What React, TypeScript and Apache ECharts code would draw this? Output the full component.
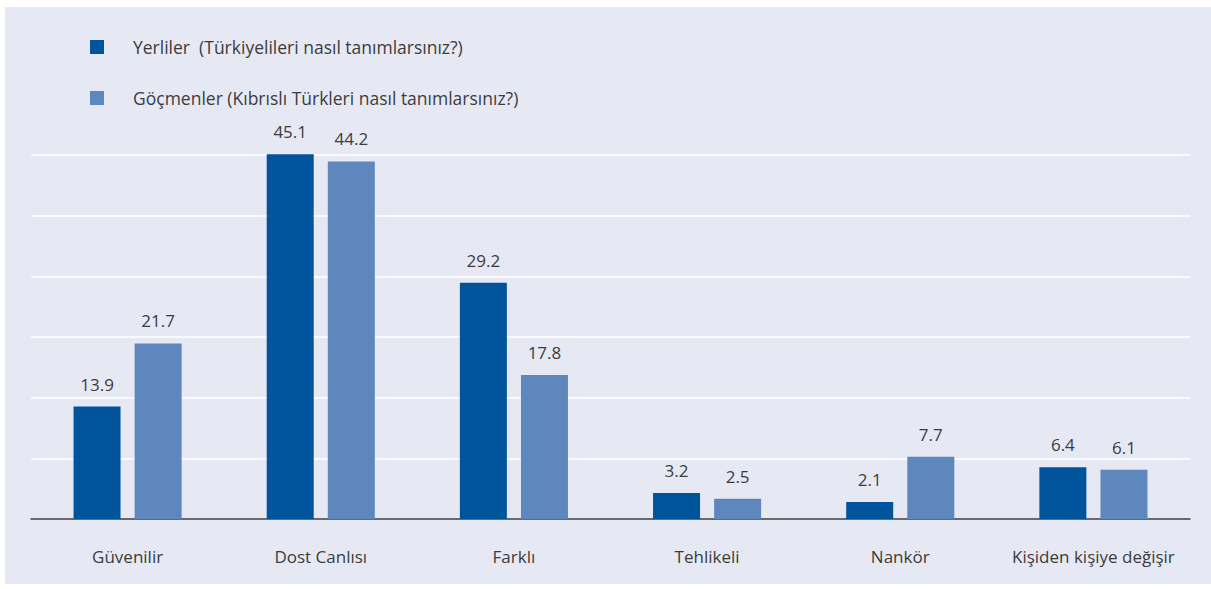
import React, { useEffect, useRef } from "react";
import * as echarts from "echarts";

const categories = ["Güvenilir", "Dost Canlısı", "Farklı", "Tehlikeli", "Nankör", "Kişiden kişiye değişir"];
const seriesNames = ["Yerliler  (Türkiyelileri nasıl tanımlarsınız?)", "Göçmenler (Kıbrıslı Türkleri nasıl tanımlarsınız?)"];
const yerliler = [13.9, 45.1, 29.2, 3.2, 2.1, 6.4];
const gocmenler = [21.7, 44.2, 17.8, 2.5, 7.7, 6.1];

const FONT = "'Open Sans', 'Noto Sans', sans-serif";
const TEXT = "#3c3c3c";

export default function App() {
  const ref = useRef<HTMLDivElement>(null);
  useEffect(() => {
    if (!ref.current) return;
    const chart = echarts.init(ref.current, undefined, { renderer: "svg" });
    chart.setOption({
      animation: false,
      backgroundColor: "#e6e9f4",
      textStyle: { fontFamily: FONT },
      legend: {
        orient: "vertical",
        left: 80,
        top: 26,
        itemWidth: 14,
        itemHeight: 14,
        itemGap: 33,
        icon: "rect",
        textStyle: { fontSize: 17.5, color: TEXT, fontFamily: FONT, padding: [0, 0, 0, 24], lineHeight: 14 },
        data: seriesNames,
      },
      grid: { left: 26, right: 21, top: 107.5, bottom: 65, containLabel: false },
      xAxis: {
        type: "category",
        data: categories,
        axisLine: { show: true, lineStyle: { color: "#3a3a3a", width: 1.5 } },
        axisTick: { show: false },
        axisLabel: { interval: 0, fontSize: 17, color: TEXT, margin: 29, fontFamily: FONT },
        splitLine: { show: false },
      },
      yAxis: {
        type: "value",
        min: 0,
        max: 50,
        interval: 7.5,
        axisLine: { show: false },
        axisTick: { show: false },
        axisLabel: { show: false },
        splitLine: { show: true, showMaxLine: false, lineStyle: { color: "#ffffff", width: 1.5 } },
      },
      series: [
        {
          name: seriesNames[0],
          type: "bar",
          data: yerliler,
          barWidth: 47,
          barGap: "30%",
          itemStyle: { color: "#00549c" },
          label: { show: true, position: "top", distance: 14, fontSize: 17, color: TEXT, fontFamily: FONT },
        },
        {
          name: seriesNames[1],
          type: "bar",
          data: gocmenler,
          barWidth: 47,
          barGap: "30%",
          itemStyle: { color: "#5d87bd" },
          label: { show: true, position: "top", distance: 14, fontSize: 17, color: TEXT, fontFamily: FONT },
        },
      ],
    });
    return () => chart.dispose();
  }, []);
  return (
    <div style={{ position: "absolute", left: 0, top: 0, width: 1211, height: 589, background: "#ffffff" }}>
      <div ref={ref} style={{ position: "absolute", left: 5, top: 7, width: 1206, height: 577 }} />
    </div>
  );
}
